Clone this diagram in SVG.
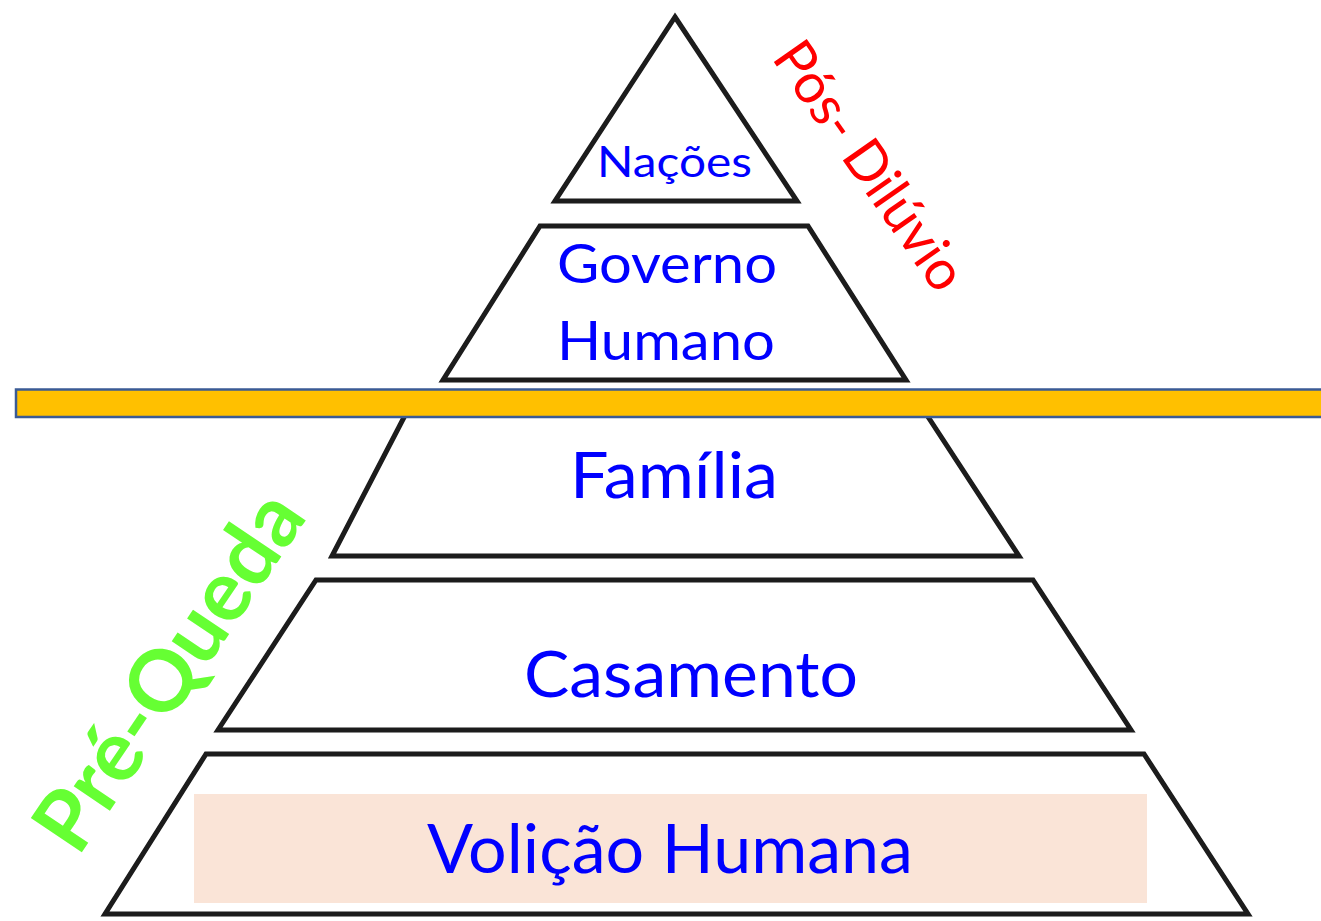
<svg xmlns="http://www.w3.org/2000/svg" width="1321" height="921" viewBox="0 0 1321 921">
  <defs>
    <style>
      .layer { fill: #ffffff; stroke: #1a1a1a; stroke-width: 5; stroke-linejoin: miter; }
      .base { stroke: #6a6a6a; stroke-width: 4; fill: none; }
      .lbl { font-family: Lato, "Open Sans", "Liberation Sans", sans-serif; fill: #0000ff; }
    </style>
    <filter id="soft" x="-5%" y="-5%" width="110%" height="110%">
      <feGaussianBlur stdDeviation="0.7"/>
    </filter>
  </defs>
  <rect width="1321" height="921" fill="#ffffff"/>

  <g id="volicao-humana">
    <polygon class="layer" filter="url(#soft)" points="206,754 1144,754 1248,914 105,914"/>
    <line class="base" filter="url(#soft)" x1="108" y1="909" x2="1245" y2="909"/>
    <rect x="194" y="794" width="953" height="109" fill="#fae4d7"/>
    <text class="lbl" x="427" y="873" font-size="67" textLength="486" lengthAdjust="spacingAndGlyphs">Volição Humana</text>
  </g>

  <g id="casamento">
    <polygon class="layer" filter="url(#soft)" points="316,580 1033,580 1131,730 218,730"/>
    <line class="base" filter="url(#soft)" x1="222" y1="725" x2="1128" y2="725"/>
    <text class="lbl" x="524" y="697" font-size="64" textLength="334" lengthAdjust="spacingAndGlyphs">Casamento</text>
  </g>

  <g id="familia">
    <polygon class="layer" filter="url(#soft)" points="413,400 917,400 1019,556 332,556"/>
    <line class="base" filter="url(#soft)" x1="336" y1="551" x2="1015" y2="551"/>
    <text class="lbl" x="570" y="498" font-size="63" textLength="208" lengthAdjust="spacingAndGlyphs">Família</text>
  </g>

  <g id="governo-humano">
    <polygon class="layer" filter="url(#soft)" points="540,226 808,226 906,380 443,380"/>
    <text class="lbl" x="557" y="283" font-size="54" textLength="220" lengthAdjust="spacingAndGlyphs">Governo</text>
    <text class="lbl" x="557" y="360" font-size="54" textLength="218" lengthAdjust="spacingAndGlyphs">Humano</text>
  </g>

  <g id="nacoes">
    <polygon class="layer" filter="url(#soft)" points="675,17 797,201 555,201"/>
    <text class="lbl" x="597" y="177" font-size="42" textLength="155" lengthAdjust="spacingAndGlyphs">Nações</text>
  </g>

  <g id="divisor">
    <rect x="16" y="389.5" width="1310" height="27.5" fill="#ffc000" stroke="#3b5b95" stroke-width="2.5"/>
  </g>

  <g id="pos-diluvio">
    <text transform="translate(771,58) rotate(55)" font-family="Lato, 'Open Sans', 'Liberation Sans', sans-serif" font-size="56" fill="#ff0000" textLength="290" lengthAdjust="spacingAndGlyphs">Pós- Dilúvio</text>
  </g>

  <g id="pre-queda">
    <text transform="translate(78,858) rotate(-56)" font-family="Lato, 'Open Sans', 'Liberation Sans', sans-serif" font-weight="bold" font-size="85" fill="#66ff33" textLength="412" lengthAdjust="spacingAndGlyphs">Pré-Queda</text>
  </g>
</svg>
